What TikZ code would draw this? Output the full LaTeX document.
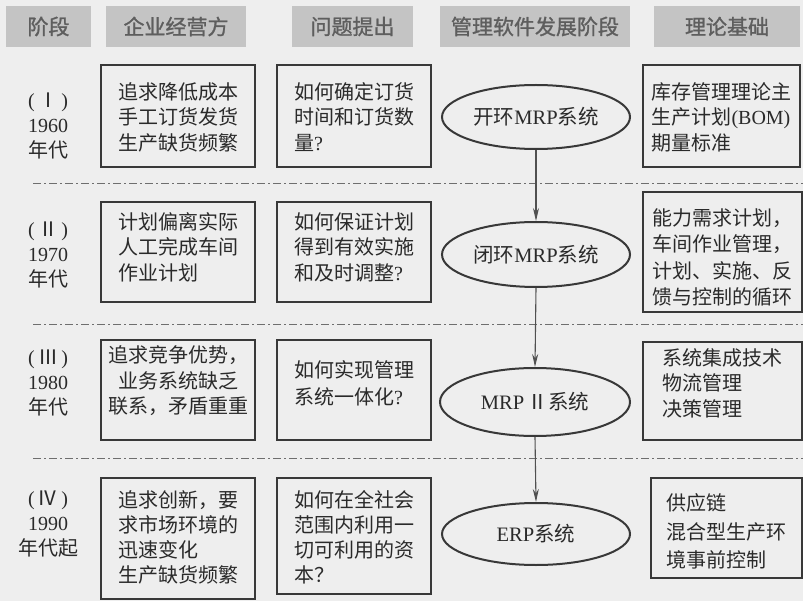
\documentclass[tikz,border=0pt]{standalone}
\usepackage{fontspec}
\setmainfont{Liberation Serif}
\newfontfamily\cjk{Noto Sans CJK SC}
\newfontfamily\cjkh[FakeBold=1.2]{Noto Sans CJK SC}
\usetikzlibrary{shapes.geometric,arrows.meta}
\definecolor{bg}{HTML}{EEEEEE}
\definecolor{hdrfill}{HTML}{C4C4C4}
\definecolor{hdrtext}{HTML}{5E5E5E}
\definecolor{boxline}{HTML}{383838}
\definecolor{txtcol}{HTML}{2A2A2A}
\definecolor{sepcol}{HTML}{6E6E6E}
\definecolor{arrcol}{HTML}{505050}
\begin{document}
\begin{tikzpicture}[x=1pt,y=-1pt,
  hdr/.style={fill=hdrfill, text=hdrtext, font=\fontsize{21}{24}\selectfont\cjkh, inner sep=0pt, minimum height=41pt},
  box/.style={draw=boxline, line width=2pt, inner sep=0pt},
  txt/.style={text=txtcol, font=\fontsize{20}{25.5}\selectfont\cjk, align=left, inner sep=0pt},
  lab/.style={text=txtcol, font=\fontsize{20}{25}\selectfont, align=center, inner sep=0pt},
  oval/.style={ellipse, draw=boxline, line width=2pt, inner sep=0pt, text=txtcol, font=\fontsize{20.5}{24}\selectfont},
  sep/.style={draw=sepcol, line width=1pt, dash pattern=on 8pt off 3pt on 2pt off 3pt},
  arr/.style={draw=arrcol, line width=1.1pt, -{Stealth[length=13pt,width=6pt]}}
]
\fill[bg] (0,0) rectangle (803,601);
\useasboundingbox (0,0) rectangle (803,601);

% header
\node[hdr, minimum width=85pt] (h1) at (48.5,26.5) {阶段};
\node[hdr, minimum width=140pt] (h2) at (176,26.5) {企业经营方};
\node[hdr, minimum width=121pt] (h3) at (352.5,26.5) {问题提出};
\node[hdr, minimum width=190pt] (h4) at (535,26.5) {管理软件发展阶段};
\node[hdr, minimum width=146pt] (h5) at (727,26.5) {理论基础};

% separators
\draw[sep] (33,184) -- (803,184);
\draw[sep] (33,325) -- (803,325);
\draw[sep] (33,458) -- (803,458);

% row 1
\node[lab] (l1) at (48,126) {(\,{\cjk Ⅰ}\,)\\1960\\{\cjk 年代}};
\node[box, minimum width=154pt, minimum height=102pt] (b11) at (178,116) {};
\node[txt] (t11) at (178,117) {追求降低成本\\手工订货发货\\生产缺货频繁};
\node[box, minimum width=154pt, minimum height=102pt] (b12) at (354,116) {};
\node[txt] (t12) at (354,117) {如何确定订货\\时间和订货数\\量{\rmfamily ?}};
\node[oval, minimum width=188pt, minimum height=64pt] (e1) at (536,117) {{\cjk 开环}MRP{\cjk 系统}};
\node[box, minimum width=157pt, minimum height=102pt] (b15) at (721.5,116) {};
\node[txt] (t15) at (721.5,117) {库存管理理论主\\生产计划{\rmfamily (BOM)}\\期量标准};

% row 2
\node[lab] (l2) at (48,255) {(\,{\cjk Ⅱ}\,)\\1970\\{\cjk 年代}};
\node[box, minimum width=154pt, minimum height=100pt] (b21) at (178,252) {};
\node[txt] (t21) at (178,247) {计划偏离实际\\人工完成车间\\作业计划\hphantom{作业}};
\node[box, minimum width=154pt, minimum height=100pt] (b22) at (354,252) {};
\node[txt] (t22) at (354,247) {如何保证计划\\得到有效实施\\和及时调整{\rmfamily ?}};
\node[oval, minimum width=188pt, minimum height=65pt] (e2) at (536,254.5) {{\cjk 闭环}MRP{\cjk 系统}};
\node[box, minimum width=159pt, minimum height=120pt] (b25) at (722.5,252) {};
\node[txt, font=\fontsize{20}{26.3}\selectfont\cjk] (t25) at (722.5,257.5) {能力需求计划，\\车间作业管理，\\计划、实施、反\\馈与控制的循环};

% row 3
\node[lab] (l3) at (48,383) {(\,{\cjk Ⅲ}\,)\\1980\\{\cjk 年代}};
\node[box, minimum width=154pt, minimum height=100pt] (b31) at (178,390) {};
\node[txt, align=center] (t31) at (178,381) {追求竞争优势，\\业务系统缺乏\\联系，矛盾重重};
\node[box, minimum width=154pt, minimum height=100pt] (b32) at (354,390) {};
\node[txt, font=\fontsize{20}{27}\selectfont\cjk] (t32) at (354,383.5) {如何实现管理\\系统一体化{\rmfamily ?}};
\node[oval, minimum width=190pt, minimum height=68pt] (e3) at (535,402) {MRP\,{\cjk Ⅱ系统}};
\node[box, minimum width=159pt, minimum height=98pt] (b35) at (722.5,391) {};
\node[txt] (t35) at (722.5,383) {系统集成技术\\物流管理\\决策管理};

% row 4
\node[lab] (l4) at (48,524) {(\,{\cjk Ⅳ}\,)\\1990\\{\cjk 年代起}};
\node[box, minimum width=154pt, minimum height=121pt] (b41) at (178,538.5) {};
\node[txt, font=\fontsize{20}{25}\selectfont\cjk] (t41) at (178,537.5) {追求创新，要\\求市场环境的\\迅速变化\\生产缺货频繁};
\node[box, minimum width=154pt, minimum height=116pt] (b42) at (354,536) {};
\node[txt, font=\fontsize{20}{25}\selectfont\cjk] (t42) at (354,537.5) {如何在全社会\\范围内利用一\\切可利用的资\\本？};
\node[oval, minimum width=188pt, minimum height=62pt] (e4) at (536,534) {ERP{\cjk 系统}};
\node[box, minimum width=151pt, minimum height=100pt] (b45) at (726.5,528) {};
\node[txt, font=\fontsize{20}{28.5}\selectfont\cjk] (t45) at (726.5,531.5) {供应链\\混合型生产环\\境事前控制};

% arrows
\draw[arr] (e1.south) -- (e2.north);
\draw[arr] (e2.south) -- (e3.north);
\draw[arr] (e3.south) -- (e4.north);
\end{tikzpicture}
\end{document}
